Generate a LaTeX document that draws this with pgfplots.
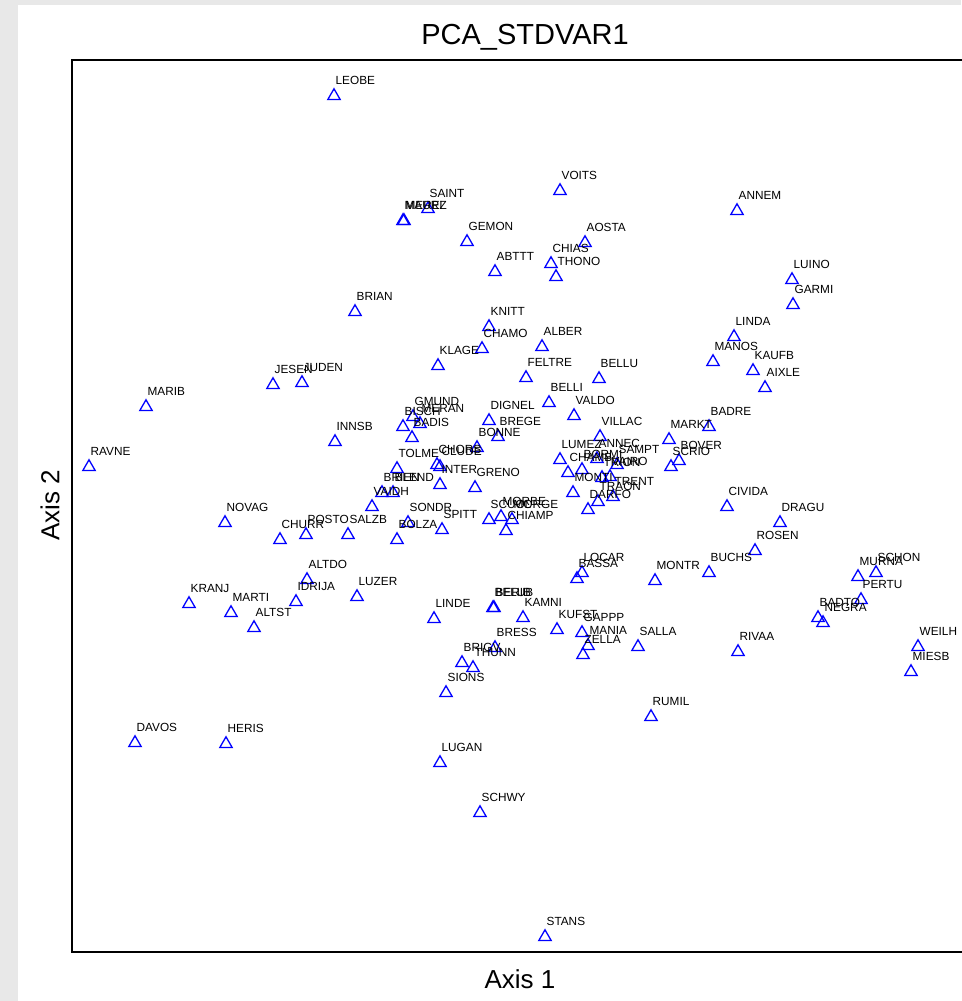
\documentclass[border=0pt]{standalone}
\usepackage{pgfplots}
\pgfplotsset{compat=1.18}
\usepackage{pgfplotstable}
\usepackage{fontspec}
\setmainfont{Liberation Sans}
\pgfplotstableread{
x y label
334 -96 LEOBE
560 -191 VOITS
428 -209 SAINT
403 -221 MAURI
404 -221 MEREZ
467 -242 GEMON
585 -243 AOSTA
737 -211 ANNEM
551 -264 CHIAS
556 -277 THONO
495 -272 ABTTT
792 -280 LUINO
793 -305 GARMI
355 -312 BRIAN
489 -327 KNITT
482 -349 CHAMO
542 -347 ALBER
438 -366 KLAGE
734 -337 LINDA
713 -362 MANOS
753 -371 KAUFB
765 -388 AIXLE
526 -378 FELTRE
599 -379 BELLU
273 -385 JESEN
302 -383 JUDEN
146 -407 MARIB
549 -403 BELLI
574 -416 VALDO
489 -421 DIGNEL
498 -437 BREGE
477 -448 BONNE
413 -417 GMUND
420 -424 MERAN
403 -427 BISCH
412 -438 BADIS
335 -442 INNSB
709 -427 BADRE
669 -440 MARKT
679 -461 BOVER
671 -467 SCRIO
600 -437 VILLAC
89 -467 RAVNE
397 -469 TOLME
437 -465 CHORS
440 -467 CLUDE
440 -485 INTER
475 -488 GRENO
560 -460 LUMEZ
597 -459 ANNEC
568 -473 CHAMB
582 -470 BORMI
617 -465 SAMPT
610 -477 VAIRO
602 -478 TRION
573 -493 MONTI
613 -497 TRENT
598 -502 TRAON
588 -510 DARFO
382 -493 BRIEN
393 -493 BLEND
372 -507 VAIDH
727 -507 CIVIDA
780 -523 DRAGU
225 -523 NOVAG
280 -540 CHURR
306 -535 POSTO
348 -535 SALZB
408 -523 SONDR
397 -540 BOLZA
442 -530 SPITT
489 -520 SCUOL
501 -517 MORBE
512 -520 MORGE
506 -531 CHIAMP
755 -551 ROSEN
709 -573 BUCHS
655 -581 MONTR
582 -573 LOCAR
577 -579 BASSA
858 -577 MURNA
876 -573 SCHON
861 -600 PERTU
818 -618 BADTO
823 -623 NEGRA
307 -580 ALTDO
296 -602 IDRIJA
357 -597 LUZER
189 -604 KRANJ
231 -613 MARTI
254 -628 ALTST
434 -619 LINDE
493 -608 BELUB
494 -608 BERIB
523 -618 KAMNI
557 -630 KUFST
582 -633 GAPPP
588 -646 MANIA
583 -655 ZELLA
495 -648 BRESS
638 -647 SALLA
738 -652 RIVAA
918 -647 WEILH
911 -672 MIESB
462 -663 BRIGV
473 -668 THUNN
446 -693 SIONS
651 -717 RUMIL
135 -743 DAVOS
226 -744 HERIS
440 -763 LUGAN
480 -813 SCHWY
545 -937 STANS
}\stations
\begin{document}
\begin{tikzpicture}[x=1pt,y=1pt]
\useasboundingbox (0,0) rectangle (961,1001);
\fill[black!9] (0,0) rectangle (961,1001);
\fill[white] (18,0) rectangle (961,996);
\begin{axis}[
  at={(72pt,49pt)}, anchor=south west,
  scale only axis, width=896pt, height=892pt,
  xmin=72, xmax=968, ymin=-952, ymax=-60,
  ticks=none,
  axis line style={line width=2.7pt, black},
  clip=false,
  title={PCA\_STDVAR1},
  title style={at={(axis description cs:0.5056,1.019)}, anchor=center, yshift=0pt, font=\fontsize{29}{29}\selectfont, inner sep=0pt},
  xlabel={Axis 1},
  xlabel style={at={(axis description cs:0.5,-0.0303)}, anchor=center, yshift=0pt, font=\fontsize{26}{26}\selectfont, inner sep=0pt},
  ylabel={Axis 2},
  ylabel style={at={(axis description cs:-0.0246,0.501)}, anchor=center, xshift=0pt, rotate=0, font=\fontsize{26}{26}\selectfont, inner sep=0pt},
]
\addplot[only marks, mark=triangle, mark size=7.2pt,
  mark options={draw={rgb,255:red,0;green,0;blue,255}, fill=none, line width=1.3pt},
  nodes near coords, point meta=explicit symbolic,
  every node near coord/.append style={anchor=base west, font=\fontsize{11.8}{11.8}\selectfont, text=black, inner sep=0pt, xshift=1pt, yshift=11pt}]
  table[x=x, y=y, meta=label] {\stations};
\end{axis}
\end{tikzpicture}
\end{document}
